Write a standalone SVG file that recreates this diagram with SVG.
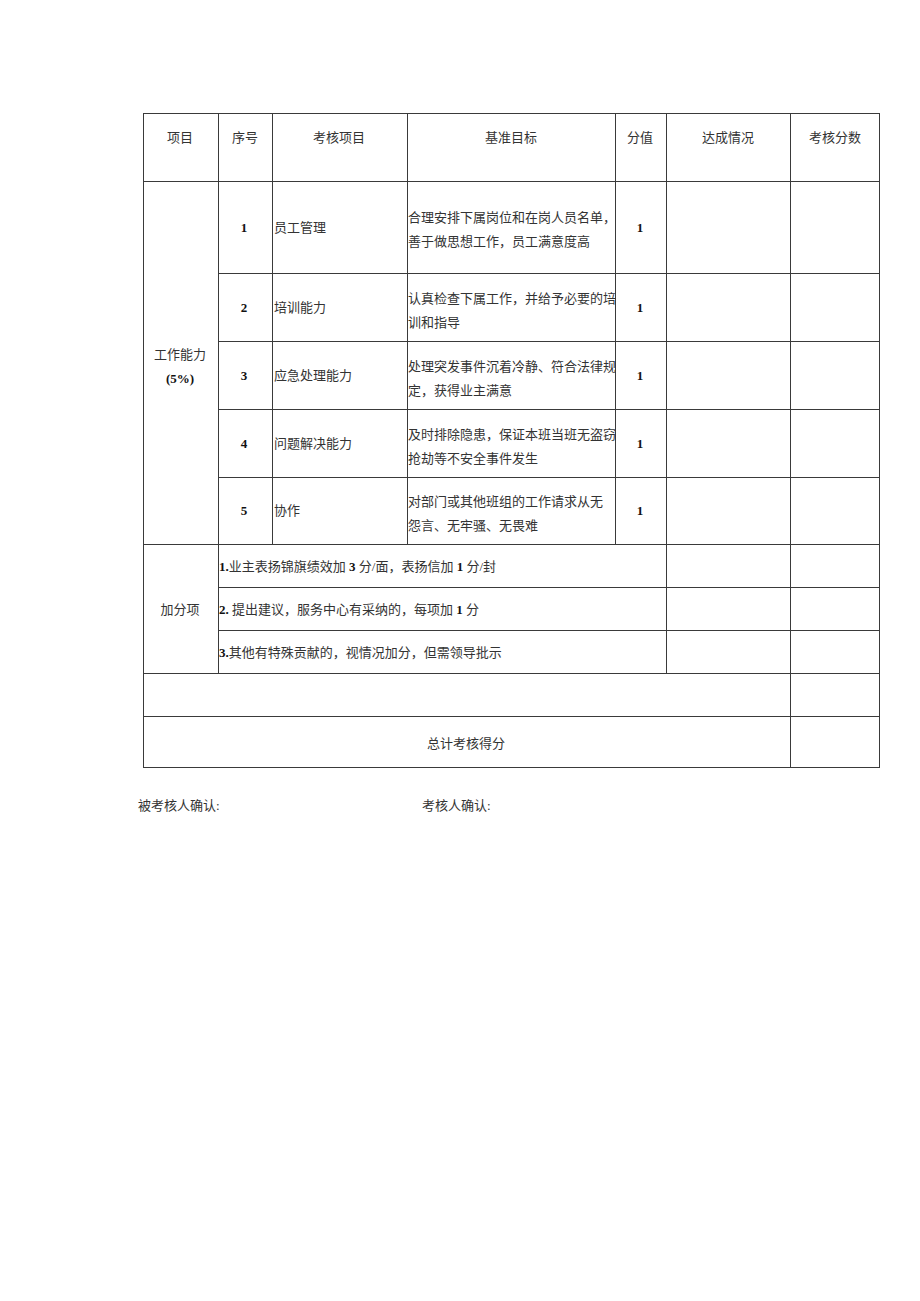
<svg xmlns="http://www.w3.org/2000/svg" width="920" height="1301" viewBox="0 0 920 1301">
<style>
  .g{stroke:#3a3a3a;stroke-width:1;fill:none}
  .t{font-family:"Liberation Serif","Noto Sans CJK SC",serif;font-size:13px;fill:#333}
  .c{text-anchor:middle}
  .b{font-weight:bold;fill:#111}
</style>
<rect width="920" height="1301" fill="#fff"/>
<g id="grid" class="g">
  <rect x="143.5" y="113.5" width="736" height="654"/>
  <!-- horizontal lines -->
  <line x1="143" y1="181.5" x2="879" y2="181.5"/>
  <line x1="218" y1="273.5" x2="879" y2="273.5"/>
  <line x1="218" y1="341.5" x2="879" y2="341.5"/>
  <line x1="218" y1="409.5" x2="879" y2="409.5"/>
  <line x1="218" y1="477.5" x2="879" y2="477.5"/>
  <line x1="143" y1="544.5" x2="879" y2="544.5"/>
  <line x1="218" y1="587.5" x2="879" y2="587.5"/>
  <line x1="218" y1="630.5" x2="879" y2="630.5"/>
  <line x1="143" y1="673.5" x2="879" y2="673.5"/>
  <line x1="143" y1="716.5" x2="879" y2="716.5"/>
  <!-- vertical lines -->
  <line x1="218.5" y1="113" x2="218.5" y2="673"/>
  <line x1="272.5" y1="113" x2="272.5" y2="544"/>
  <line x1="407.5" y1="113" x2="407.5" y2="544"/>
  <line x1="615.5" y1="113" x2="615.5" y2="544"/>
  <line x1="666.5" y1="113" x2="666.5" y2="673"/>
  <line x1="790.5" y1="113" x2="790.5" y2="767"/>
</g>
<g id="header" class="t c">
  <text x="180" y="142">项目</text>
  <text x="245" y="142">序号</text>
  <text x="339" y="142">考核项目</text>
  <text x="511" y="142">基准目标</text>
  <text x="640" y="142">分值</text>
  <text x="728" y="142">达成情况</text>
  <text x="835" y="142">考核分数</text>
</g>
<g id="category" class="t c">
  <text x="180" y="359">工作能力</text>
  <text x="180" y="383" class="b">(5%)</text>
</g>
<g id="row1" class="t">
  <text x="244" y="232" class="c b">1</text>
  <text x="274" y="232">员工管理</text>
  <text x="408" y="222">合理安排下属岗位和在岗人员名单，</text>
  <text x="408" y="246">善于做思想工作，员工满意度高</text>
  <text x="640" y="232" class="c b">1</text>
</g>
<g id="row2" class="t">
  <text x="244" y="312" class="c b">2</text>
  <text x="274" y="312">培训能力</text>
  <text x="408" y="303">认真检查下属工作，并给予必要的培</text>
  <text x="408" y="327">训和指导</text>
  <text x="640" y="312" class="c b">1</text>
</g>
<g id="row3" class="t">
  <text x="244" y="380" class="c b">3</text>
  <text x="274" y="380">应急处理能力</text>
  <text x="408" y="371">处理突发事件沉着冷静、符合法律规</text>
  <text x="408" y="395">定，获得业主满意</text>
  <text x="640" y="380" class="c b">1</text>
</g>
<g id="row4" class="t">
  <text x="244" y="448" class="c b">4</text>
  <text x="274" y="448">问题解决能力</text>
  <text x="408" y="439">及时排除隐患，保证本班当班无盗窃</text>
  <text x="408" y="463">抢劫等不安全事件发生</text>
  <text x="640" y="448" class="c b">1</text>
</g>
<g id="row5" class="t">
  <text x="244" y="515" class="c b">5</text>
  <text x="274" y="515">协作</text>
  <text x="408" y="506">对部门或其他班组的工作请求从无</text>
  <text x="408" y="530">怨言、无牢骚、无畏难</text>
  <text x="640" y="515" class="c b">1</text>
</g>
<g id="bonus" class="t">
  <text x="180" y="614" class="c">加分项</text>
  <text x="219" y="571"><tspan class="b">1.</tspan>业主表扬锦旗绩效加 <tspan class="b">3</tspan> 分/面，表扬信加 <tspan class="b">1</tspan> 分/封</text>
  <text x="219" y="614"><tspan class="b">2.</tspan> 提出建议，服务中心有采纳的，每项加 <tspan class="b">1</tspan> 分</text>
  <text x="219" y="657"><tspan class="b">3.</tspan>其他有特殊贡献的，视情况加分，但需领导批示</text>
</g>
<g id="total" class="t c">
  <text x="466" y="748">总计考核得分</text>
</g>
<g id="footer" class="t">
  <text x="138" y="810">被考核人确认:</text>
  <text x="422" y="810">考核人确认:</text>
</g>
</svg>
